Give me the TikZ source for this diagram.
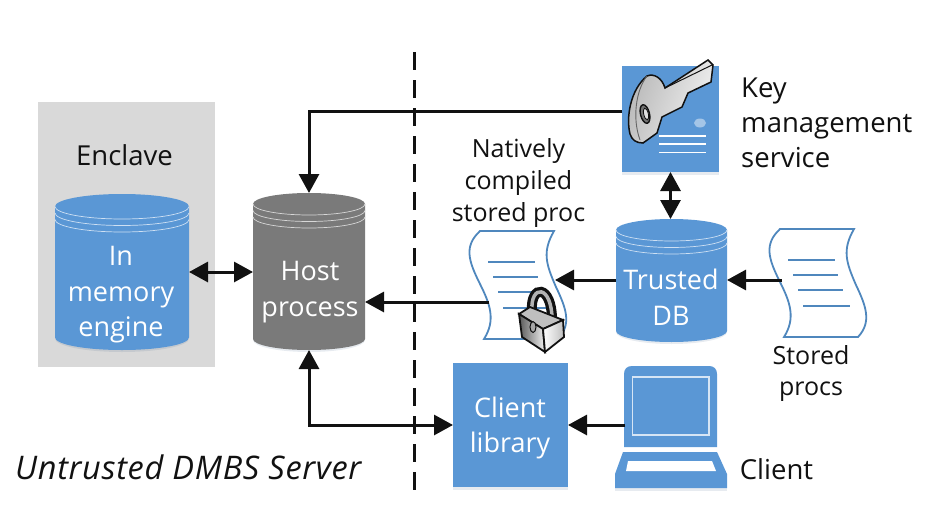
\documentclass[tikz,border=0pt]{standalone}
\usepackage{fontspec}
\setmainfont{Open Sans}
\usetikzlibrary{arrows.meta,calc}
\definecolor{bl}{HTML}{5A97D5}
\definecolor{bldark}{HTML}{4F87BD}
\definecolor{gy}{HTML}{7A7A7A}
\definecolor{encl}{HTML}{D9D9D9}
\definecolor{ink}{HTML}{111111}
\newcommand{\cyl}[7]{% name, left, right, top, bottom, ry, fill
  \pgfmathsetmacro{\cx}{(#2+#3)/2}\pgfmathsetmacro{\rx}{(#3-#2)/2}
  \fill[bl!60!black,opacity=.12] (#2,#5-#6-2) -- (#3,#5-#6-2) arc[x radius=\rx,y radius=#6+1,start angle=0,end angle=180] -- cycle;
  \fill[bl!60!black,opacity=.12] (#2,#5-#6+1) -- (#3,#5-#6+1) arc[x radius=\rx,y radius=#6+1,start angle=0,end angle=180] -- cycle;
  \fill[#7] (#2,#4+#6) arc[x radius=\rx,y radius=#6,start angle=180,end angle=360] -- (#3,#5-#6) arc[x radius=\rx,y radius=#6,start angle=0,end angle=180] -- cycle;
  \foreach \d in {0,6.5,13}{
    \draw[white!70!#7,line width=.7pt] (#2,#4+#6+\d) arc[x radius=\rx,y radius=#6,start angle=180,end angle=0];}
  \node[cylbox,minimum width=#3pt-#2pt,minimum height=#5pt-#4pt] (#1) at (\cx,{(#4+#5)/2}) {};
}
\newcommand{\scroll}[2]{%
  \begin{scope}[shift={(#1,#2)}]
  \draw[bldark,line width=1.8pt,fill=white] (780,229) -- (854,229) .. controls (842,250) and (846,262) .. (856,285) .. controls (866,306) and (872,322) .. (858,337) -- (784,337) .. controls (796,318) and (790,302) .. (780,282) .. controls (768,258) and (764,244) .. (780,229) -- cycle;
  \draw[bldark,line width=1.9pt] (788,260) -- (835,260) (793,275) -- (838,275) (798,290) -- (843,290) (803,306) -- (850,306);
  \end{scope}}
\tikzset{
  conn/.style={ink,line width=3pt,-{Triangle[length=19pt,width=20pt]}},
  bidir/.style={ink,line width=3pt,{Triangle[length=19pt,width=20pt]}-{Triangle[length=19pt,width=20pt]}},
  cylbox/.style={rectangle,inner sep=0pt,outer sep=0pt},
  bluebox/.style={rectangle,fill=bl,inner sep=0pt,outer sep=0pt},
  softshadow/.style={fill=bl!60!black,opacity=.12},
  lab/.style={font=\fontsize{27.5}{35}\selectfont,text=ink,align=center,inner sep=0pt},
  smalllab/.style={font=\fontsize{25}{32}\selectfont,text=ink,align=center,inner sep=0pt},
  wlab/.style={font=\fontsize{27}{35.5}\selectfont,text=white,align=center,inner sep=0pt},
}
\begin{document}
\begin{tikzpicture}[x=1pt,y=-1pt]
\useasboundingbox (0,0) rectangle (934,514);
\node[rectangle,fill=encl,inner sep=0pt,minimum width=177pt,minimum height=265pt] (enclave) at (126.5,234.5) {};
\node[lab] (enclavelab) at (124.5,155) {Enclave};
\cyl{mem}{55}{189}{194}{350}{12.5}{bl}
\node[wlab] (memlab) at (121,295) {In\\memory\\engine};
\cyl{host}{253}{365}{193}{350}{11}{gy}
\node[wlab] (hostlab) at (310,292) {Host\\process};
\cyl{tdb}{616}{727}{219}{342}{11}{bl}
\node[wlab] (tdblab) at (671,297) {Trusted\\DB};
\fill[softshadow] (622,172) rectangle (719,175);
\node[bluebox,minimum width=97pt,minimum height=106pt] (kms) at (670.5,119) {};
\fill[white,opacity=.45] (700,123) ellipse[x radius=6,y radius=4.5];
\draw[white,line width=1.5pt] (659,136) -- (706,136) (659,144) -- (706,144) (659,152.5) -- (706,152.5);
% key
\draw[ink,line width=1.5pt,left color=black!28,right color=black!5,shading angle=70] (665,88) -- (708,60) -- (713,65) -- (711,82) -- (688,93) -- (682,107) -- (662,117) -- (657,133) -- (643,143) .. controls (636,143) and (632,140) .. (630,134) .. controls (626,118) and (630,90) .. (647,76) .. controls (654,73) and (662,78) .. (665,88) -- cycle;
\draw[ink,line width=1pt] (665,88) -- (712,65);
\draw[black!60,line width=.9pt] (647,76) .. controls (636,90) and (632,118) .. (640,140);
\draw[ink,line width=1.4pt,fill=black!55] (645,114) ellipse[x radius=4.5,y radius=9.5,rotate=14];
\draw[ink,line width=.8pt,fill=black!12] (646,114) ellipse[x radius=2.3,y radius=6,rotate=14];
\node[lab,align=left,anchor=west] (kmslab) at (741,123) {Key\\management\\service};
\node[smalllab] (natlab) at (518.5,183) {Natively\\compiled\\stored proc};
\scroll{-300}{2}
\coordinate (doc1r) at (555,280);
\coordinate (doc1l) at (489,302);
\scroll{0}{0}
\coordinate (doc2l) at (782,280);
\node[smalllab] (storedlab) at (811,373.5) {Stored\\procs};
% lock
\draw[ink,line width=10pt,line cap=round] (532,311) .. controls (530,284) and (552,284) .. (552,320);
\draw[black!30,line width=3.5pt,line cap=round] (532,311) .. controls (530,284) and (552,284) .. (552,320);
\draw[ink,line width=1.8pt,fill=black!25] (519,314) -- (530,307) -- (563,320) -- (543,329) -- cycle;
\draw[ink,line width=1.8pt,left color=black!65,right color=black!5] (519,314) -- (543,329) -- (545,352) -- (522,337) -- cycle;
\draw[ink,line width=1.8pt,left color=white,right color=black!25] (543,329) -- (563,320) -- (564,337) -- (545,352) -- cycle;
\draw[ink,line width=1pt,fill=black!35] (533,327) ellipse[x radius=3,y radius=5.5];
\fill[softshadow] (453,487) rectangle (568,490);
\node[bluebox,minimum width=115pt,minimum height=124pt] (lib) at (510.5,425) {};
\node[wlab] (liblab) at (510,428) {Client\\library};
% laptop
\path[fill=bl] (624,447) -- (624,374) .. controls (624,369) and (627,366) .. (632,366) -- (709,366) .. controls (714,366) and (717,369) .. (717,374) -- (717,447) -- cycle;
\draw[white!75!bl,line width=1.1pt] (632.5,377) rectangle (709,435);
\fill[softshadow] (615,488) rectangle (727,491);
\path[fill=bl] (623,452) -- (717,452) -- (727,474) -- (727,488) -- (615,488) -- (615,474) -- cycle;
\fill[white] (628,461) -- (712,461) -- (716,471) -- (626,471) -- cycle;
\coordinate (laptop) at (625,425);
\node[lab] (clientlab) at (776.5,469) {Client};
\node[lab,font=\fontsize{32.5}{35}\selectfont\itshape\addfontfeature{LetterSpace=2.1},anchor=west] (srv) at (15,467) {Untrusted DMBS Server};
\draw[ink,line width=3pt,dash pattern=on 18pt off 10pt] (414,52) -- (414,495);
% connectors
\draw[conn] (kms.west |- 0,111) -| (host.north);
\draw[bidir] (kms.south) -- (tdb.north -| kms.south);
\draw[conn] (tdb.west |- doc1r) -- (doc1r);
\draw[conn] (doc2l) -- (tdb.east |- doc2l);
\draw[conn] (doc1l) -- (host.east |- doc1l);
\draw[bidir] (mem.east |- 0,272) -- (host.west |- 0,272);
\draw[bidir] (host.south) |- (lib.west);
\draw[conn] (laptop) -- (lib.east);
\end{tikzpicture}
\end{document}
